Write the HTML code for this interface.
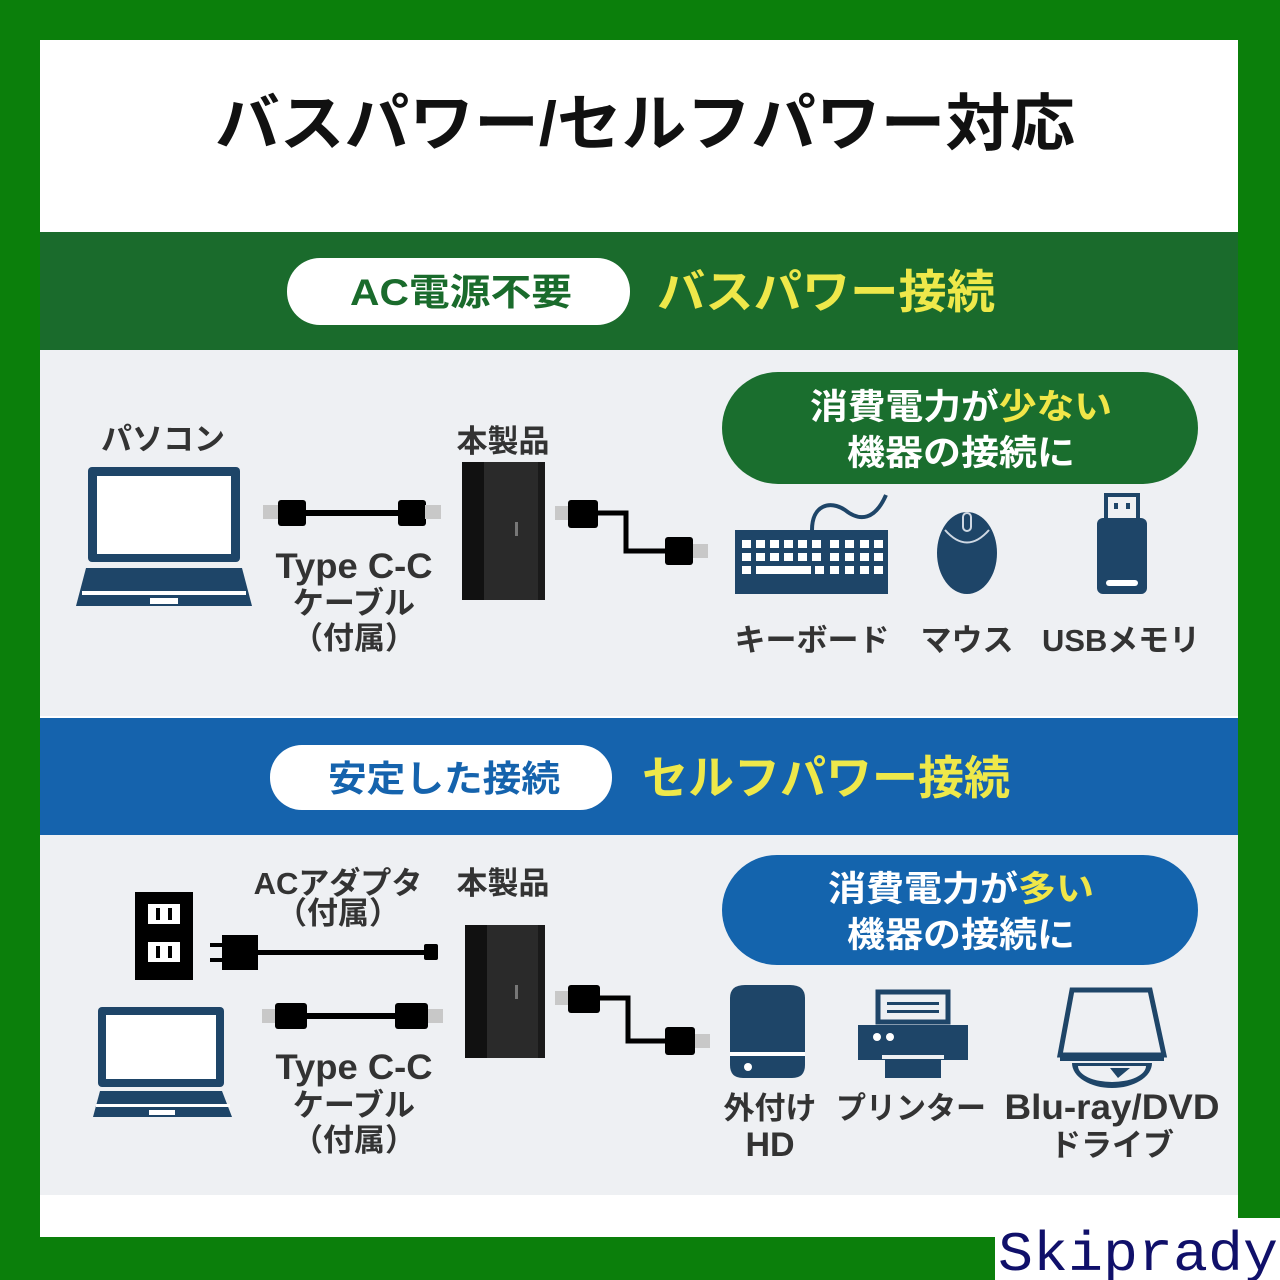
<!DOCTYPE html>
<html><head><meta charset="utf-8"><style>
html,body{margin:0;padding:0;background:#0b7f0b;}
svg{display:block}
text{font-family:"Liberation Sans","Noto Sans CJK JP",sans-serif;font-weight:bold;}
</style></head><body>
<svg width="1280" height="1280" viewBox="0 0 1280 1280" xmlns="http://www.w3.org/2000/svg">
<rect width="1280" height="1280" fill="#0b7f0b"/>
<rect x="40" y="40" width="1198" height="1197" fill="#ffffff"/>
<text x="645" y="145" font-size="62" text-anchor="middle" fill="#111" textLength="860" lengthAdjust="spacingAndGlyphs">バスパワー/セルフパワー対応</text>

<!-- green band -->
<rect x="40" y="232" width="1198" height="118" fill="#1a6b2c"/>
<rect x="287" y="258" width="343" height="67" rx="33" fill="#fff"/>
<text x="461" y="305" font-size="37" text-anchor="middle" fill="#1a6b2c" textLength="222" lengthAdjust="spacingAndGlyphs">AC電源不要</text>
<text x="657" y="308" font-size="46" fill="#eee84a" textLength="338" lengthAdjust="spacingAndGlyphs">バスパワー接続</text>
<rect x="40" y="350" width="1198" height="366" fill="#eef0f3"/>

<!-- blue band -->
<rect x="40" y="718" width="1198" height="117" fill="#1563ad"/>
<rect x="270" y="745" width="342" height="65" rx="32" fill="#fff"/>
<text x="444" y="791" font-size="36" text-anchor="middle" fill="#1563ad" textLength="232" lengthAdjust="spacingAndGlyphs">安定した接続</text>
<text x="642" y="794" font-size="46" fill="#eee84a" textLength="368" lengthAdjust="spacingAndGlyphs">セルフパワー接続</text>
<rect x="40" y="835" width="1198" height="360" fill="#eef0f3"/>

<g fill="#333" font-size="31" text-anchor="middle">
<text x="163" y="450">パソコン</text>
<text x="503" y="452">本製品</text>
<text x="354" y="578" font-size="35" textLength="157" lengthAdjust="spacingAndGlyphs">Type C-C</text>
<text x="354" y="614">ケーブル</text>
<text x="354" y="649">（付属）</text>
<text x="812" y="651">キーボード</text>
<text x="967" y="651">マウス</text>
<text x="1121" y="651" textLength="158" lengthAdjust="spacingAndGlyphs">USBメモリ</text>
<text x="338" y="894">ACアダプタ</text>
<text x="338" y="924">（付属）</text>
<text x="503" y="894">本製品</text>
<text x="354" y="1079" font-size="35" textLength="157" lengthAdjust="spacingAndGlyphs">Type C-C</text>
<text x="354" y="1116">ケーブル</text>
<text x="354" y="1151">（付属）</text>
<text x="770" y="1119">外付け</text>
<text x="770" y="1156" font-size="34">HD</text>
<text x="911" y="1119" textLength="150" lengthAdjust="spacingAndGlyphs">プリンター</text>
<text x="1112" y="1119" font-size="35" textLength="215" lengthAdjust="spacingAndGlyphs">Blu-ray/DVD</text>
<text x="1112" y="1156">ドライブ</text>
</g>

<!-- pills -->
<rect x="722" y="372" width="476" height="112" rx="56" fill="#1a6e2e"/>
<text x="961" y="419" font-size="35" text-anchor="middle" fill="#fff" textLength="302" lengthAdjust="spacingAndGlyphs">消費電力が<tspan fill="#f0e648">少ない</tspan></text>
<text x="961" y="465" font-size="35" text-anchor="middle" fill="#fff" textLength="228" lengthAdjust="spacingAndGlyphs">機器の接続に</text>
<rect x="722" y="855" width="476" height="110" rx="55" fill="#1464ad"/>
<text x="961" y="901" font-size="35" text-anchor="middle" fill="#fff" textLength="266" lengthAdjust="spacingAndGlyphs">消費電力が<tspan fill="#f0e648">多い</tspan></text>
<text x="961" y="947" font-size="35" text-anchor="middle" fill="#fff" textLength="228" lengthAdjust="spacingAndGlyphs">機器の接続に</text>

<!-- laptop 1 -->
<g fill="#1e4568">
<rect x="88" y="467" width="152" height="95" rx="4"/>
<rect x="97" y="476" width="134" height="78" fill="#fff"/>
<path d="M86 568 H242 L252 606 H76 Z"/>
<rect x="82" y="591" width="164" height="4" fill="#fff"/>
<rect x="150" y="598" width="28" height="6" fill="#fff"/>
</g>
<!-- laptop 2 -->
<g fill="#1e4568">
<rect x="98" y="1007" width="126" height="80" rx="4"/>
<rect x="106" y="1015" width="110" height="64" fill="#fff"/>
<path d="M100 1091 H222 L232 1117 H93 Z"/>
<rect x="96" y="1104" width="134" height="3" fill="#fff"/>
<rect x="149" y="1110" width="26" height="5" fill="#fff"/>
</g>

<!-- cables -->
<g>
<rect x="263" y="505" width="16" height="14" fill="#c8c8c8"/>
<rect x="278" y="500" width="28" height="26" rx="3" fill="#000"/>
<rect x="305" y="510" width="95" height="6" fill="#000"/>
<rect x="398" y="500" width="28" height="26" rx="3" fill="#000"/>
<rect x="425" y="505" width="16" height="14" fill="#c8c8c8"/>

<rect x="555" y="506" width="14" height="14" fill="#c8c8c8"/>
<rect x="568" y="500" width="30" height="28" rx="3" fill="#000"/>
<path d="M598 513 H626 V551 H666" fill="none" stroke="#000" stroke-width="5"/>
<rect x="665" y="537" width="28" height="28" rx="3" fill="#000"/>
<rect x="693" y="544" width="15" height="14" fill="#c8c8c8"/>

<rect x="262" y="1009" width="14" height="14" fill="#c8c8c8"/>
<rect x="275" y="1003" width="32" height="26" rx="3" fill="#000"/>
<rect x="305" y="1013" width="92" height="6" fill="#000"/>
<rect x="395" y="1003" width="33" height="26" rx="3" fill="#000"/>
<rect x="428" y="1009" width="15" height="14" fill="#c8c8c8"/>

<rect x="555" y="991" width="14" height="14" fill="#c8c8c8"/>
<rect x="568" y="985" width="32" height="28" rx="3" fill="#000"/>
<path d="M600 998 H628 V1041 H666" fill="none" stroke="#000" stroke-width="5"/>
<rect x="665" y="1027" width="30" height="28" rx="3" fill="#000"/>
<rect x="695" y="1034" width="15" height="14" fill="#c8c8c8"/>

<!-- outlet -->
<rect x="135" y="892" width="58" height="88" fill="#000"/>
<rect x="148" y="904" width="32" height="20" fill="#fff"/><rect x="156" y="908" width="4" height="12" fill="#000"/><rect x="168" y="908" width="4" height="12" fill="#000"/>
<rect x="148" y="942" width="32" height="20" fill="#fff"/><rect x="156" y="946" width="4" height="12" fill="#000"/><rect x="168" y="946" width="4" height="12" fill="#000"/>
<rect x="210" y="943" width="14" height="4" fill="#000"/><rect x="210" y="958" width="14" height="4" fill="#000"/>
<rect x="222" y="935" width="36" height="35" fill="#000"/>
<rect x="256" y="950" width="172" height="5" fill="#000"/>
<rect x="424" y="944" width="14" height="16" rx="2" fill="#000"/>
</g>

<!-- products -->
<g>
<rect x="462" y="462" width="83" height="138" fill="#2a2a2a"/>
<rect x="462" y="462" width="22" height="138" fill="#111"/>
<rect x="538" y="462" width="7" height="138" fill="#1a1a1a"/>
<rect x="515" y="522" width="3" height="14" fill="#777"/>
<rect x="465" y="925" width="80" height="133" fill="#2a2a2a"/>
<rect x="465" y="925" width="22" height="133" fill="#111"/>
<rect x="538" y="925" width="7" height="133" fill="#1a1a1a"/>
<rect x="515" y="985" width="3" height="14" fill="#777"/>
</g>

<!-- keyboard -->
<g fill="#1e4568">
<path d="M812 530 C812 505 830 500 845 510 C860 522 875 520 886 495" fill="none" stroke="#1e4568" stroke-width="4"/>
<rect x="735" y="530" width="153" height="64"/>
<g fill="#fff">
<rect x="742" y="540" width="9" height="8"/><rect x="756" y="540" width="9" height="8"/><rect x="770" y="540" width="9" height="8"/><rect x="784" y="540" width="9" height="8"/><rect x="798" y="540" width="9" height="8"/><rect x="812" y="540" width="9" height="8"/><rect x="830" y="540" width="9" height="8"/><rect x="845" y="540" width="9" height="8"/><rect x="860" y="540" width="9" height="8"/><rect x="874" y="540" width="9" height="8"/>
<rect x="742" y="553" width="9" height="8"/><rect x="756" y="553" width="9" height="8"/><rect x="770" y="553" width="9" height="8"/><rect x="784" y="553" width="9" height="8"/><rect x="798" y="553" width="9" height="8"/><rect x="812" y="553" width="9" height="8"/><rect x="830" y="553" width="9" height="8"/><rect x="845" y="553" width="9" height="8"/><rect x="860" y="553" width="9" height="8"/><rect x="874" y="553" width="9" height="8"/>
<rect x="742" y="566" width="9" height="8"/><rect x="756" y="566" width="55" height="8"/><rect x="815" y="566" width="9" height="8"/><rect x="830" y="566" width="9" height="8"/><rect x="845" y="566" width="9" height="8"/><rect x="860" y="566" width="9" height="8"/><rect x="874" y="566" width="9" height="8"/>
</g>
<!-- mouse -->
<ellipse cx="967" cy="553" rx="30" ry="41"/>
<path d="M945 530 Q967 555 989 530" fill="none" stroke="#cfd8e3" stroke-width="2"/>
<rect x="963" y="513" width="8" height="18" rx="4" fill="none" stroke="#cfd8e3" stroke-width="2"/>
<!-- usb -->
<rect x="1106" y="495" width="32" height="26" fill="none" stroke="#1e4568" stroke-width="4"/>
<rect x="1114" y="503" width="4" height="6"/><rect x="1126" y="503" width="4" height="6"/>
<rect x="1097" y="518" width="50" height="76" rx="6"/>
<rect x="1106" y="580" width="32" height="6" rx="3" fill="#fff"/>
<!-- HDD -->
<path d="M730 998 Q730 985 745 985 H790 Q805 985 805 998 V1065 Q805 1078 792 1078 H743 Q730 1078 730 1065 Z"/>
<rect x="730" y="1052" width="75" height="4" fill="#fff"/>
<circle cx="748" cy="1067" r="4" fill="#fff"/>
<!-- printer -->
<rect x="878" y="992" width="70" height="30" fill="none" stroke="#1e4568" stroke-width="5"/>
<rect x="887" y="1002" width="52" height="3"/><rect x="887" y="1010" width="52" height="3"/>
<rect x="858" y="1025" width="110" height="35"/>
<circle cx="877" cy="1037" r="4" fill="#fff"/><circle cx="890" cy="1037" r="4" fill="#fff"/>
<rect x="882" y="1055" width="62" height="4" fill="#eef0f3"/>
<rect x="885" y="1060" width="56" height="18"/>
<!-- bluray -->
<path d="M1072 990 H1150 L1164 1055 H1060 Z" fill="none" stroke="#1e4568" stroke-width="5"/>
<path d="M1072 1063 H1152 A40 25 0 0 1 1072 1063 Z"/>
<rect x="1060" y="1053" width="104" height="8"/>
<path d="M1078 1066 H1146 A34 16 0 0 1 1078 1066 Z" fill="#eef0f3"/>
<path d="M1110 1068 L1130 1068 L1118 1078 Z"/>
</g>

<!-- watermark -->
<rect x="1238" y="1218" width="42" height="12" fill="#fff"/>
<rect x="995" y="1228" width="285" height="52" fill="#fff"/>
<text x="998" y="1270" font-size="56" fill="#10106a" textLength="280" lengthAdjust="spacingAndGlyphs" style="font-family:'Liberation Mono',monospace;font-weight:normal">Skiprady</text>
</svg>
</body></html>
